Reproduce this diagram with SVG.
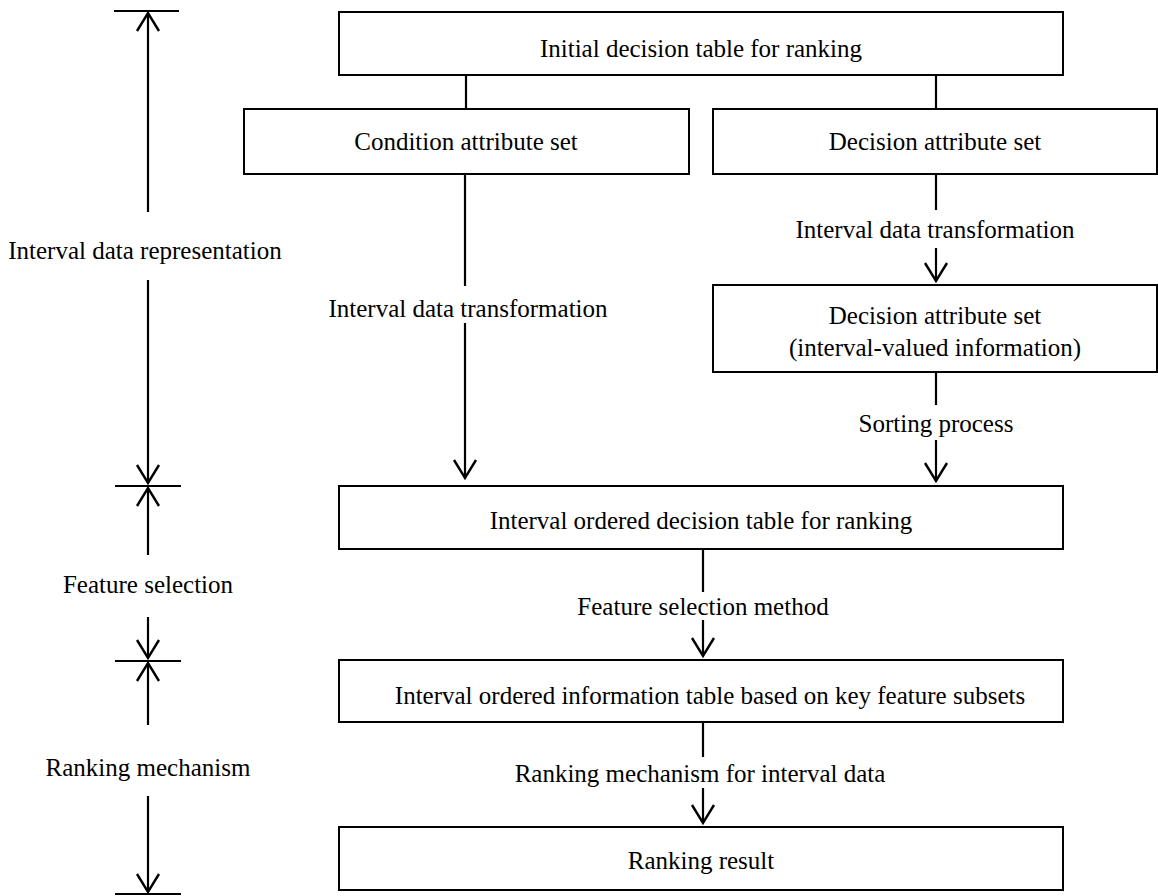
<svg xmlns="http://www.w3.org/2000/svg" width="1158" height="896" viewBox="0 0 1158 896">
<defs>
<style>
.box{fill:#fff;stroke:#000;stroke-width:2}
.ln{stroke:#000;stroke-width:2.2;fill:none}
.ar{stroke:#000;stroke-width:2.2;fill:none;marker-end:url(#v)}
text{font-family:"Liberation Serif","Times New Roman",serif;font-size:25px;fill:#000;text-anchor:middle}
</style>
<marker id="v" viewBox="0 0 24 26" refX="21" refY="13" markerWidth="24" markerHeight="26" markerUnits="userSpaceOnUse" orient="auto">
<path d="M3,2 L21,13 L3,24" fill="none" stroke="#000" stroke-width="2.4"/>
</marker>
</defs>
<rect width="1158" height="896" fill="#fff"/>
<g id="connectors">
<line class="ln" x1="466" y1="75" x2="466" y2="109"/>
<line class="ln" x1="936" y1="75" x2="936" y2="109"/>
<line class="ln" x1="465" y1="174" x2="465" y2="286"/>
<line class="ar" x1="465" y1="323" x2="465" y2="478"/>
<line class="ln" x1="936" y1="174" x2="936" y2="210"/>
<line class="ar" x1="936" y1="248" x2="936" y2="281"/>
<line class="ln" x1="936" y1="372" x2="936" y2="405"/>
<line class="ar" x1="936" y1="440" x2="936" y2="481"/>
<line class="ln" x1="703" y1="549" x2="703" y2="592"/>
<line class="ar" x1="703" y1="620" x2="703" y2="656"/>
<line class="ln" x1="703" y1="722" x2="703" y2="757"/>
<line class="ar" x1="703" y1="788" x2="703" y2="823"/>
</g>
<g id="n1"><rect class="box" x="339" y="12" width="724" height="63"/><text x="701" y="57">Initial decision table for ranking</text></g>
<g id="n2"><rect class="box" x="244" y="109" width="445" height="65"/><text x="466" y="150">Condition attribute set</text></g>
<g id="n3"><rect class="box" x="713" y="109" width="444" height="65"/><text x="935" y="150">Decision attribute set</text></g>
<g id="l1"><text x="468" y="317">Interval data transformation</text></g>
<g id="l2"><text x="935" y="238">Interval data transformation</text></g>
<g id="n4"><rect class="box" x="713" y="285" width="444" height="87"/><text x="935" y="324">Decision attribute set</text><text x="935" y="356">(interval-valued information)</text></g>
<g id="l3"><text x="936" y="432">Sorting process</text></g>
<g id="n5"><rect class="box" x="339" y="486" width="724" height="63"/><text x="701" y="529">Interval ordered decision table for ranking</text></g>
<g id="l4"><text x="703" y="615">Feature selection method</text></g>
<g id="n6"><rect class="box" x="339" y="660" width="724" height="62"/><text x="710" y="704">Interval ordered information table based on key feature subsets</text></g>
<g id="l5"><text x="700" y="782">Ranking mechanism for interval data</text></g>
<g id="n7"><rect class="box" x="339" y="827" width="724" height="63"/><text x="701" y="869">Ranking result</text></g>
<g id="stages">
<line class="ln" x1="114" y1="11" x2="179" y2="11"/>
<line class="ar" x1="148" y1="212" x2="148" y2="13"/>
<text x="145" y="259">Interval data representation</text>
<line class="ar" x1="148" y1="280" x2="148" y2="483"/>
<line class="ln" x1="115" y1="486" x2="181" y2="486"/>
<line class="ar" x1="148" y1="555" x2="148" y2="488"/>
<text x="148" y="593">Feature selection</text>
<line class="ar" x1="148" y1="617" x2="148" y2="658"/>
<line class="ln" x1="115" y1="661" x2="181" y2="661"/>
<line class="ar" x1="148" y1="725" x2="148" y2="663"/>
<text x="148" y="776">Ranking mechanism</text>
<line class="ar" x1="148" y1="796" x2="148" y2="892"/>
<line class="ln" x1="115" y1="894" x2="181" y2="894"/>
</g>
</svg>
